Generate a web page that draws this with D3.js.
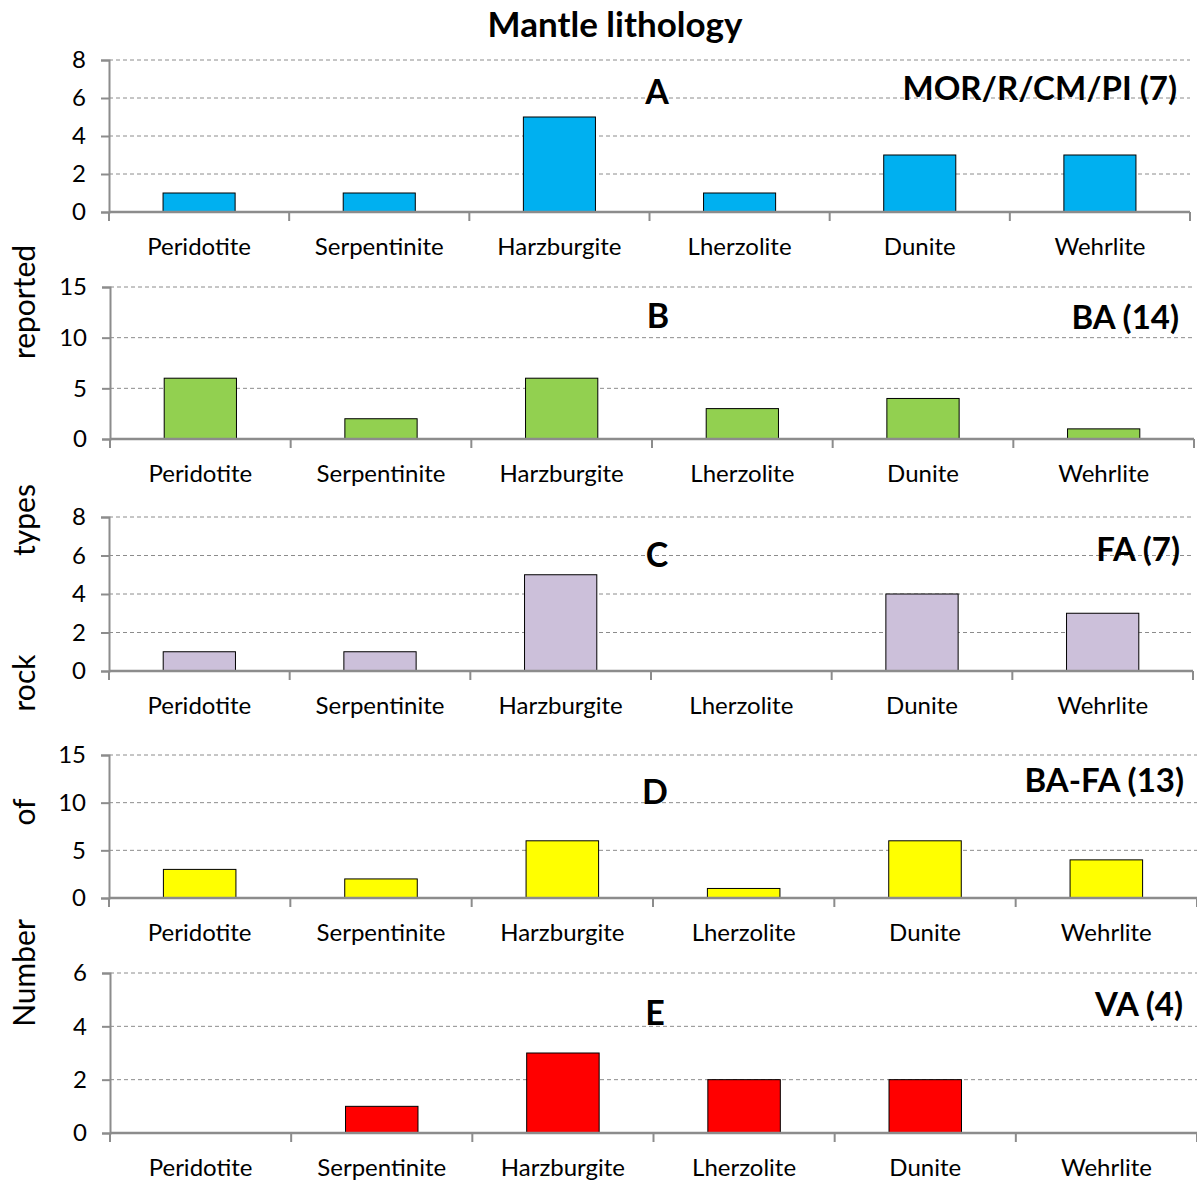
<!DOCTYPE html>
<html>
<head>
<meta charset="utf-8">
<script src="https://cdn.jsdelivr.net/npm/d3@7"></script>
<style>
  body { margin: 0; background: #fff; }
  svg { display: block; font-family: Lato, "Open Sans", sans-serif; }
</style>
</head>
<body>
<script>
// data
var categories = ["Peridotite", "Serpentinite", "Harzburgite", "Lherzolite", "Dunite", "Wehrlite"];
var valuesA = [1, 1, 5, 1, 3, 3];
var valuesB = [6, 2, 6, 3, 4, 1];
var valuesC = [1, 1, 5, 0, 4, 3];
var valuesD = [3, 2, 6, 1, 6, 4];
var valuesE = [0, 1, 3, 2, 2, 0];
var panelLetters = ["A", "B", "C", "D", "E"];
var groupLabels = ["MOR/R/CM/PI (7)", "BA (14)", "FA (7)", "BA-FA (13)", "VA (4)"];
var yMaxes = [8, 15, 8, 15, 6];
var ySteps = [2, 5, 2, 5, 2];
var titleWords = ["Number", "of", "rock", "types", "reported"];

// layout (pixel boxes of each panel)
var colors = ["#00b0f0", "#92d050", "#ccc0da", "#ffff00", "#ff0000"];
var boxes = [
  {left: 109, right: 1190, top: 60, bottom: 212, letterX: 657, letterY: 104, groupX: 1177, groupY: 100},
  {left: 110, right: 1194, top: 287, bottom: 439, letterX: 658, letterY: 328, groupX: 1179, groupY: 329},
  {left: 109, right: 1193, top: 517, bottom: 671, letterX: 657, letterY: 567, groupX: 1180, groupY: 561},
  {left: 109, right: 1197, top: 755, bottom: 898, letterX: 655, letterY: 804, groupX: 1184, groupY: 792},
  {left: 110, right: 1197, top: 973, bottom: 1133, letterX: 655, letterY: 1025, groupX: 1183, groupY: 1016}
];
var wordY = [973, 812, 683, 520, 302];

var allValues = [valuesA, valuesB, valuesC, valuesD, valuesE];

var svg = d3.select("body").append("svg")
  .attr("width", 1197)
  .attr("height", 1181);

svg.append("text")
  .attr("x", 615).attr("y", 37)
  .attr("text-anchor", "middle")
  .attr("font-size", 35).attr("font-weight", "bold")
  .text("Mantle lithology");

// y axis title, words spread along the height
svg.selectAll(".ytitle")
  .data(titleWords)
  .enter()
  .append("text")
  .attr("class", "ytitle")
  .attr("transform", function(d, i) { return "translate(35," + wordY[i] + ") rotate(-90)"; })
  .attr("text-anchor", "middle")
  .attr("font-size", 30)
  .text(function(d) { return d; });

allValues.forEach(function(vals, p) {
  var b = boxes[p];
  var g = svg.append("g");

  var x = d3.scaleBand().domain(categories).range([b.left, b.right]);
  var y = d3.scaleLinear().domain([0, yMaxes[p]]).range([b.bottom, b.top]);
  var ticks = d3.range(0, yMaxes[p] + 1, ySteps[p]);

  // gridlines
  g.selectAll(".grid")
    .data(ticks.filter(function(t) { return t > 0; }))
    .enter()
    .append("line")
    .attr("x1", b.left).attr("x2", b.right)
    .attr("y1", function(d) { return y(d); })
    .attr("y2", function(d) { return y(d); })
    .attr("stroke", "#8c8c8c")
    .attr("stroke-width", 1)
    .attr("stroke-dasharray", "4,3");

  // bars
  var bw = x.bandwidth() * 0.4;
  g.selectAll("rect")
    .data(vals)
    .enter()
    .append("rect")
    .attr("x", function(d, i) { return x(categories[i]) + (x.bandwidth() - bw) / 2; })
    .attr("y", function(d) { return y(d); })
    .attr("width", bw)
    .attr("height", function(d) { return y(0) - y(d); })
    .attr("fill", colors[p])
    .attr("stroke", "#000")
    .attr("stroke-width", 1)
    .style("display", function(d) { return d > 0 ? null : "none"; });

  // y axis
  var yAxis = g.append("g")
    .attr("transform", "translate(" + b.left + ",0)")
    .call(d3.axisLeft(y).tickValues(ticks).tickFormat(d3.format("d")).tickSize(8).tickPadding(15));
  yAxis.select(".domain").attr("stroke", "#8c8c8c").attr("stroke-width", 2);
  yAxis.selectAll(".tick line").attr("stroke", "#8c8c8c").attr("stroke-width", 2);
  yAxis.selectAll(".tick text")
    .attr("font-size", 24).attr("font-family", "Lato, sans-serif").attr("fill", "#000");

  // x axis line with ticks at band edges
  g.append("line")
    .attr("x1", b.left).attr("x2", b.right)
    .attr("y1", y(0)).attr("y2", y(0))
    .attr("stroke", "#8c8c8c").attr("stroke-width", 2.5);
  var edges = categories.map(function(c) { return x(c); }).concat([b.right]);
  g.selectAll(".xtick")
    .data(edges)
    .enter()
    .append("line")
    .attr("x1", function(d) { return d; }).attr("x2", function(d) { return d; })
    .attr("y1", y(0)).attr("y2", y(0) + 9)
    .attr("stroke", "#8c8c8c").attr("stroke-width", 2);

  g.selectAll(".xlabel")
    .data(categories)
    .enter()
    .append("text")
    .attr("x", function(d) { return x(d) + x.bandwidth() / 2; })
    .attr("y", y(0) + 43)
    .attr("text-anchor", "middle")
    .attr("font-size", 24)
    .text(function(d) { return d; });

  g.append("text")
    .attr("x", b.letterX).attr("y", b.letterY)
    .attr("text-anchor", "middle")
    .attr("font-size", 34).attr("font-weight", "bold")
    .text(panelLetters[p]);

  g.append("text")
    .attr("x", b.groupX).attr("y", b.groupY)
    .attr("text-anchor", "end")
    .attr("font-size", 33).attr("font-weight", "bold")
    .text(groupLabels[p]);
});
</script>
</body>
</html>
